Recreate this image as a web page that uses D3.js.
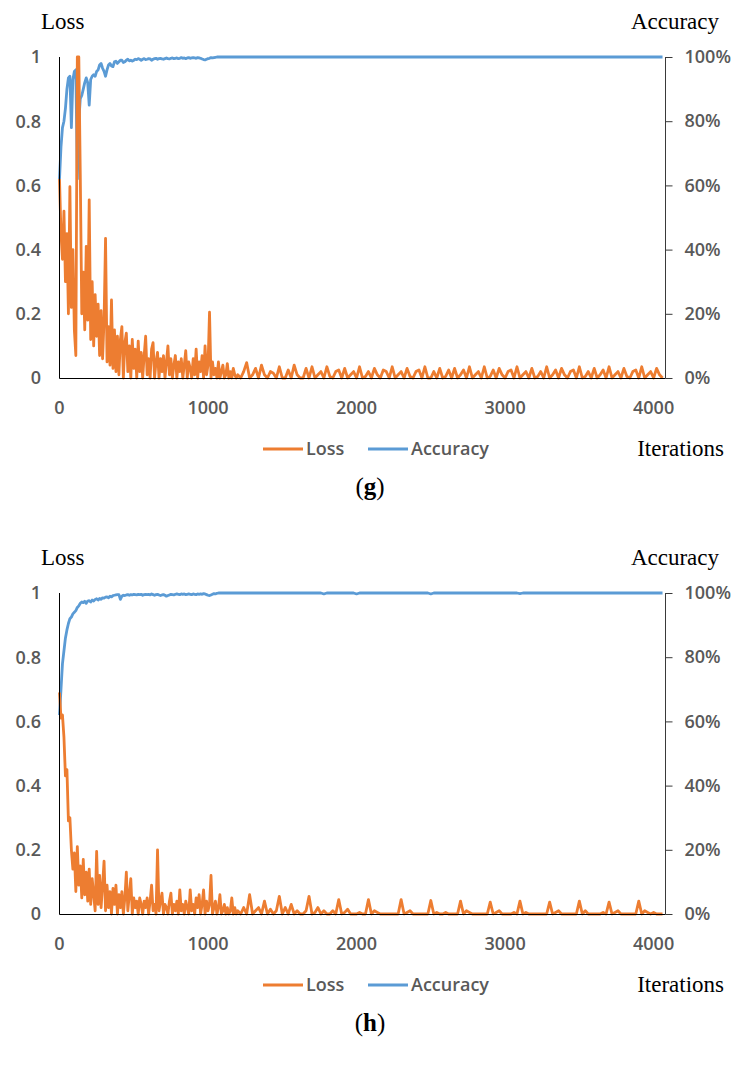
<!DOCTYPE html>
<html>
<head>
<meta charset="utf-8">
<script src="https://cdn.jsdelivr.net/npm/d3@7"></script>
<style>
  body { margin: 0; background: #fff; }
  svg { display: block; }
</style>
</head>
<body>
<div id="chart"></div>
<script>
// logged every 10 iterations up to 1200, every 20 after that
var iterations = d3.range(0, 1200, 10).concat(d3.range(1200, 4080, 20));

var xTicks = [0, 1000, 2000, 3000, 4000];
var lossTicks = [0, 0.2, 0.4, 0.6, 0.8, 1];
var accTicks = [0, 0.2, 0.4, 0.6, 0.8, 1];

// panel (g)
var lossG = [
  0.62, 0.45, 0.37, 0.52, 0.30, 0.45, 0.20, 0.596, 0.22, 0.40,
  0.15, 0.07, 1.00, 1.00, 0.63, 0.20, 0.33, 0.15, 0.41, 0.18,
  0.555, 0.12, 0.30, 0.10, 0.26, 0.13, 0.23, 0.07, 0.21, 0.06,
  0.18, 0.435, 0.05, 0.16, 0.04, 0.243, 0.03, 0.15, 0.02, 0.13,
  0.01, 0.12, 0.16, 0.00, 0.11, 0.14, 0.02, 0.10, 0.00, 0.12,
  0.03, 0.09, 0.00, 0.115, 0.02, 0.08, 0.00, 0.07, 0.13, 0.01,
  0.06, 0.00, 0.09, 0.11, 0.00, 0.05, 0.08, 0.00, 0.06, 0.02,
  0.07, 0.00, 0.05, 0.10, 0.01, 0.06, 0.00, 0.04, 0.07, 0.00,
  0.05, 0.02, 0.06, 0.00, 0.04, 0.085, 0.00, 0.05, 0.03, 0.00,
  0.06, 0.01, 0.09, 0.00, 0.05, 0.02, 0.07, 0.00, 0.10, 0.01,
  0.04, 0.205, 0.00, 0.05, 0.01, 0.03, 0.00, 0.05, 0.00, 0.02,
  0.04, 0.00, 0.01, 0.045, 0.00, 0.02, 0.00, 0.03, 0.01, 0.00,
  // from 1200, every 20
  0.01, 0.00, 0.02, 0.048, 0.00, 0.01, 0.03, 0.00, 0.04, 0.01,
  0.00, 0.02, 0.015, 0.00, 0.035, 0.00, 0.00, 0.025, 0.00, 0.04,
  0.01, 0.00, 0.00, 0.03, 0.00, 0.035, 0.00, 0.01, 0.02, 0.00,
  0.035, 0.005, 0.00, 0.02, 0.025, 0.00, 0.03, 0.00, 0.01, 0.02,
  0.00, 0.035, 0.00, 0.005, 0.02, 0.00, 0.03, 0.01, 0.00, 0.025,
  0.02, 0.00, 0.035, 0.00, 0.01, 0.02, 0.00, 0.03, 0.005, 0.00,
  0.02, 0.025, 0.00, 0.035, 0.00, 0.00, 0.02, 0.00, 0.03, 0.00,
  0.005, 0.025, 0.00, 0.03, 0.00, 0.01, 0.025, 0.00, 0.035, 0.00,
  0.01, 0.02, 0.00, 0.035, 0.00, 0.005, 0.025, 0.00, 0.03, 0.01,
  0.00, 0.02, 0.025, 0.00, 0.035, 0.00, 0.01, 0.02, 0.00, 0.03,
  0.00, 0.005, 0.02, 0.00, 0.035, 0.00, 0.01, 0.025, 0.00, 0.03,
  0.01, 0.00, 0.02, 0.025, 0.00, 0.035, 0.00, 0.005, 0.02, 0.00,
  0.03, 0.00, 0.01, 0.025, 0.00, 0.035, 0.00, 0.01, 0.02, 0.00,
  0.03, 0.005, 0.00, 0.02, 0.025, 0.00, 0.035, 0.00, 0.01, 0.02,
  0.00, 0.03, 0.01, 0.00
];
var accG = [
  0.62, 0.72, 0.78, 0.80, 0.84, 0.90, 0.935, 0.94, 0.78, 0.93,
  0.955, 0.96, 0.62, 0.80, 0.87, 0.88, 0.90, 0.92, 0.935, 0.92,
  0.85, 0.93, 0.94, 0.945, 0.94, 0.955, 0.96, 0.975, 0.98, 0.965,
  0.955, 0.94, 0.96, 0.975, 0.98, 0.972, 0.97, 0.985, 0.987, 0.98,
  0.985, 0.99, 0.99, 0.983, 0.985, 0.99, 0.993, 0.988, 0.99, 0.987,
  0.99, 0.993, 0.992, 0.995, 0.993, 0.99, 0.993, 0.995, 0.992, 0.993,
  0.995, 0.994, 0.99, 0.993, 0.995, 0.996, 0.993, 0.995, 0.996, 0.994,
  0.993, 0.995, 0.997, 0.995, 0.994, 0.996, 0.997, 0.995, 0.996, 0.997,
  0.995, 0.996, 0.998, 0.996, 0.997, 0.995, 0.997, 0.998, 0.996, 0.997,
  0.998, 0.997, 0.996, 0.998, 0.997, 0.996, 0.994, 0.992, 0.991, 0.993,
  0.995, 0.996, 0.998, 0.997, 0.998, 0.999, 1, 1, 1, 1,
  1, 1, 1, 1, 1, 1, 1, 1, 1, 1,
  // from 1200, every 20
  1, 1, 1, 1, 1, 1, 1, 1, 1, 1,
  1, 1, 1, 1, 1, 1, 1, 1, 1, 1,
  1, 1, 1, 1, 1, 1, 1, 1, 1, 1,
  1, 1, 1, 1, 1, 1, 1, 1, 1, 1,
  1, 1, 1, 1, 1, 1, 1, 1, 1, 1,
  1, 1, 1, 1, 1, 1, 1, 1, 1, 1,
  1, 1, 1, 1, 1, 1, 1, 1, 1, 1,
  1, 1, 1, 1, 1, 1, 1, 1, 1, 1,
  1, 1, 1, 1, 1, 1, 1, 1, 1, 1,
  1, 1, 1, 1, 1, 1, 1, 1, 1, 1,
  1, 1, 1, 1, 1, 1, 1, 1, 1, 1,
  1, 1, 1, 1, 1, 1, 1, 1, 1, 1,
  1, 1, 1, 1, 1, 1, 1, 1, 1, 1,
  1, 1, 1, 1, 1, 1, 1, 1, 1, 1,
  1, 1, 1, 1
];

// panel (h)
var lossH = [
  0.69, 0.61, 0.62, 0.55, 0.43, 0.45, 0.29, 0.30, 0.20, 0.14,
  0.19, 0.07, 0.21, 0.09, 0.15, 0.05, 0.17, 0.06, 0.13, 0.04,
  0.14, 0.03, 0.11, 0.06, 0.01, 0.195, 0.03, 0.12, 0.02, 0.09,
  0.165, 0.01, 0.09, 0.02, 0.07, 0.00, 0.08, 0.03, 0.09, 0.00,
  0.06, 0.02, 0.07, 0.00, 0.05, 0.13, 0.01, 0.06, 0.11, 0.00,
  0.05, 0.02, 0.04, 0.00, 0.05, 0.03, 0.00, 0.04, 0.02, 0.05,
  0.00, 0.04, 0.09, 0.01, 0.03, 0.00, 0.20, 0.01, 0.04, 0.065,
  0.00, 0.03, 0.02, 0.00, 0.04, 0.065, 0.00, 0.03, 0.01, 0.04,
  0.00, 0.075, 0.01, 0.03, 0.00, 0.04, 0.02, 0.00, 0.075, 0.01,
  0.03, 0.00, 0.05, 0.02, 0.06, 0.00, 0.03, 0.075, 0.00, 0.04,
  0.01, 0.03, 0.12, 0.00, 0.02, 0.04, 0.00, 0.02, 0.06, 0.00,
  0.01, 0.03, 0.00, 0.02, 0.00, 0.01, 0.05, 0.00, 0.02, 0.00,
  // from 1200, every 20
  0.01, 0.00, 0.02, 0.00, 0.06, 0.00, 0.01, 0.02, 0.00, 0.04,
  0.00, 0.015, 0.00, 0.01, 0.055, 0.00, 0.02, 0.00, 0.03, 0.00,
  0.01, 0.00, 0.00, 0.01, 0.055, 0.00, 0.005, 0.02, 0.00, 0.01,
  0.00, 0.00, 0.01, 0.00, 0.045, 0.00, 0.005, 0.015, 0.00, 0.00,
  0.00, 0.005, 0.00, 0.00, 0.045, 0.00, 0.01, 0.005, 0.00, 0.00,
  0.00, 0.00, 0.00, 0.00, 0.00, 0.045, 0.00, 0.005, 0.01, 0.00,
  0.00, 0.00, 0.00, 0.00, 0.00, 0.042, 0.00, 0.005, 0.00, 0.00,
  0.005, 0.00, 0.00, 0.00, 0.00, 0.04, 0.00, 0.01, 0.005, 0.00,
  0.00, 0.00, 0.00, 0.00, 0.00, 0.037, 0.00, 0.005, 0.01, 0.00,
  0.00, 0.00, 0.00, 0.005, 0.00, 0.04, 0.00, 0.005, 0.00, 0.00,
  0.00, 0.00, 0.00, 0.00, 0.00, 0.037, 0.00, 0.005, 0.01, 0.00,
  0.00, 0.00, 0.00, 0.00, 0.00, 0.04, 0.00, 0.01, 0.00, 0.00,
  0.00, 0.00, 0.00, 0.005, 0.00, 0.037, 0.00, 0.005, 0.01, 0.00,
  0.00, 0.00, 0.00, 0.00, 0.00, 0.04, 0.00, 0.01, 0.005, 0.00,
  0.005, 0.00, 0.00, 0.00
];
var accH = [
  0.62, 0.70, 0.78, 0.82, 0.86, 0.885, 0.905, 0.92, 0.925, 0.935,
  0.94, 0.945, 0.955, 0.96, 0.968, 0.972, 0.97, 0.974, 0.968, 0.975,
  0.976, 0.972, 0.978, 0.975, 0.98, 0.982, 0.978, 0.983, 0.98, 0.985,
  0.984, 0.987, 0.988, 0.985, 0.99, 0.988, 0.992, 0.993, 0.994, 0.995,
  0.995, 0.98, 0.99, 0.993, 0.992, 0.994, 0.995, 0.993, 0.995, 0.994,
  0.996, 0.995, 0.994, 0.996, 0.995, 0.996, 0.993, 0.995, 0.996, 0.995,
  0.996, 0.994, 0.997, 0.995, 0.993, 0.995, 0.996, 0.994, 0.992, 0.994,
  0.995, 0.993, 0.99, 0.992, 0.994, 0.996, 0.995, 0.994, 0.996, 0.997,
  0.996, 0.995, 0.997, 0.996, 0.997, 0.995, 0.996, 0.997, 0.996, 0.995,
  0.997, 0.996, 0.995, 0.997, 0.996, 0.997, 0.996, 0.998, 0.997, 0.995,
  0.993, 0.992, 0.994, 0.996, 0.998, 0.997, 0.999, 1, 1, 1,
  1, 1, 1, 1, 1, 1, 1, 1, 1, 1,
  // from 1200, every 20
  1, 1, 1, 1, 1, 1, 1, 1, 1, 1,
  1, 1, 1, 1, 1, 1, 1, 1, 1, 1,
  1, 1, 1, 1, 1, 1, 1, 1, 1, 0.997,
  1, 1, 1, 1, 1, 1, 1, 1, 1, 1,
  0.997, 1, 1, 1, 1, 1, 1, 1, 1, 1,
  1, 1, 1, 1, 1, 1, 1, 1, 1, 1,
  1, 1, 1, 1, 1, 0.997, 1, 1, 1, 1,
  1, 1, 1, 1, 1, 1, 1, 1, 1, 1,
  1, 1, 1, 1, 1, 1, 1, 1, 1, 1,
  1, 1, 1, 1, 1, 0.998, 1, 1, 1, 1,
  1, 1, 1, 1, 1, 1, 1, 1, 1, 1,
  1, 1, 1, 1, 1, 1, 1, 1, 1, 1,
  1, 1, 1, 1, 1, 1, 1, 1, 1, 1,
  1, 1, 1, 1, 1, 1, 1, 1, 1, 1,
  1, 1, 1, 1
];

var width = 743,
    height = 1070,
    left = 59.5,
    right = 665.5,
    plotHeight = 321;

var orange = "#ED7D31",
    blue = "#5B9BD5",
    grey = "#595959";

var tickFont = "'Open Sans', 'Noto Sans', sans-serif",
    titleFont = "'Liberation Serif', 'DejaVu Serif', serif";

var svg = d3.select("#chart").append("svg")
    .attr("width", width)
    .attr("height", height);

svg.append("rect")
    .attr("width", width)
    .attr("height", height)
    .attr("fill", "#fff");

var x = d3.scaleLinear()
    .domain([0, 4080])
    .range([left, right]);

function panel(top, loss, acc, letter) {
  var bottom = top + plotHeight;
  var g = svg.append("g");

  var yLoss = d3.scaleLinear().domain([0, 1]).range([bottom, top]);
  var yAcc = d3.scaleLinear().domain([0, 1]).range([bottom, top]);

  // axis titles
  g.append("text")
      .attr("x", 41)
      .attr("y", top - 28)
      .style("font-family", titleFont)
      .style("font-size", "23px")
      .style("fill", "#000")
      .text("Loss");
  g.append("text")
      .attr("x", 719)
      .attr("y", top - 28)
      .style("font-family", titleFont)
      .style("font-size", "23px")
      .style("fill", "#000")
      .style("text-anchor", "end")
      .text("Accuracy");

  // left axis labels
  g.selectAll(".ly")
    .data(lossTicks)
    .enter().append("text")
      .attr("x", 41)
      .attr("y", function(d) { return yLoss(d); })
      .attr("dy", "0.36em")
      .style("font-family", tickFont)
      .style("font-weight", 600)
      .style("font-size", "18px")
      .style("fill", grey)
      .style("text-anchor", "end")
      .text(function(d) { return d3.format("~g")(d); });

  // right axis with ticks
  var rightAxis = d3.axisRight(yAcc)
      .tickValues(accTicks)
      .tickSize(7)
      .tickPadding(12)
      .tickFormat(d3.format(".0%"));
  var ra = g.append("g")
      .attr("transform", "translate(" + right + ",0)")
      .call(rightAxis);
  ra.select(".domain").attr("stroke", "#3a3a3a").attr("d", "M0," + top + "V" + bottom);
  ra.selectAll(".tick line").attr("stroke", "#3a3a3a");
  ra.selectAll(".tick text")
      .style("font-family", tickFont)
      .style("font-weight", 600)
      .style("font-size", "18px")
      .attr("fill", grey);

  // x axis labels
  g.selectAll(".lx")
    .data(xTicks)
    .enter().append("text")
      .attr("x", function(d) { return x(d); })
      .attr("y", bottom + 36)
      .style("font-family", tickFont)
      .style("font-weight", 600)
      .style("font-size", "18px")
      .style("fill", grey)
      .style("text-anchor", "middle")
      .text(function(d) { return d; });

  // series
  var accLine = d3.line()
      .x(function(d, i) { return x(iterations[i]); })
      .y(function(d) { return yAcc(d); });
  var lossLine = d3.line()
      .x(function(d, i) { return x(iterations[i]); })
      .y(function(d) { return yLoss(d); });

  g.append("path")
      .attr("d", accLine(acc))
      .attr("fill", "none")
      .attr("stroke", blue)
      .attr("stroke-width", 2.8)
      .attr("stroke-linejoin", "round");
  g.append("path")
      .attr("d", lossLine(loss))
      .attr("fill", "none")
      .attr("stroke", orange)
      .attr("stroke-width", 2.8)
      .attr("stroke-linejoin", "round");

  // left and bottom axis lines
  g.append("line")
      .attr("x1", left).attr("x2", left)
      .attr("y1", top).attr("y2", bottom + 0.5)
      .attr("stroke", "#000");
  g.append("line")
      .attr("x1", left).attr("x2", right)
      .attr("y1", bottom + 0.5).attr("y2", bottom + 0.5)
      .attr("stroke", "#000");

  // legend
  var ly = bottom + 71;
  var legend = [
    { name: "Loss", color: orange, x: 263 },
    { name: "Accuracy", color: blue, x: 368 }
  ];
  legend.forEach(function(d) {
    g.append("line")
        .attr("x1", d.x).attr("x2", d.x + 40)
        .attr("y1", ly).attr("y2", ly)
        .attr("stroke", d.color)
        .attr("stroke-width", 3);
    g.append("text")
        .attr("x", d.x + 43)
        .attr("y", ly)
        .attr("dy", "0.36em")
        .style("font-family", tickFont)
        .style("font-weight", 600)
        .style("font-size", "18px")
        .style("fill", grey)
        .text(d.name);
  });

  g.append("text")
      .attr("x", 724)
      .attr("y", bottom + 78)
      .style("font-family", titleFont)
      .style("font-size", "23px")
      .style("fill", "#000")
      .style("text-anchor", "end")
      .text("Iterations");

  // caption
  var cap = g.append("text")
      .attr("x", 370)
      .attr("y", bottom + 117)
      .style("font-family", titleFont)
      .style("font-size", "25px")
      .style("fill", "#000")
      .style("text-anchor", "middle");
  cap.append("tspan").text("(");
  cap.append("tspan").style("font-weight", "bold").text(letter);
  cap.append("tspan").text(")");
}

panel(57, lossG, accG, "g");
panel(593, lossH, accH, "h");
</script>
</body>
</html>
